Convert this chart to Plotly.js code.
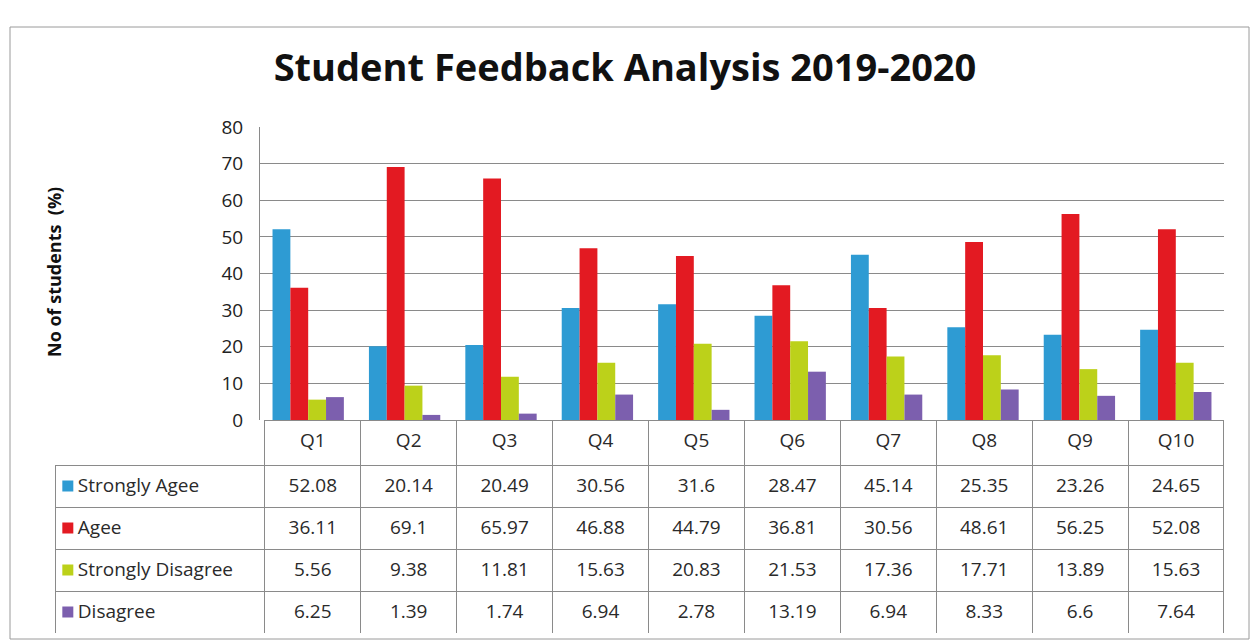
<!DOCTYPE html>
<html><head><meta charset="utf-8">
<script src="https://cdn.plot.ly/plotly-3.0.1.min.js"></script>
<style>html,body{margin:0;padding:0;background:#fff}#chart{width:1253px;height:642px}</style>
</head><body><div id="chart"></div>
<script>
const categories = ['Q1','Q2','Q3','Q4','Q5','Q6','Q7','Q8','Q9','Q10'];
const seriesNames = ['Strongly Agee','Agee','Strongly Disagree','Disagree'];
const stronglyAgree = [52.08,20.14,20.49,30.56,31.6,28.47,45.14,25.35,23.26,24.65];
const agree = [36.11,69.1,65.97,46.88,44.79,36.81,30.56,48.61,56.25,52.08];
const stronglyDisagree = [5.56,9.38,11.81,15.63,20.83,21.53,17.36,17.71,13.89,15.63];
const disagree = [6.25,1.39,1.74,6.94,2.78,13.19,6.94,8.33,6.6,7.64];
const yTicks = [0,10,20,30,40,50,60,70,80];

const colors = ['#2E9BD3','#E31A22','#BCD11A','#7C5FAE'];
const seriesValues = [stronglyAgree, agree, stronglyDisagree, disagree];

const W = 1253, H = 642;
const px = v => v / W, py = v => 1 - v / H;
const FONT = 'Open Sans, sans-serif';

const traces = seriesValues.map((vals, i) => ({
  type: 'bar', x: categories, y: vals, name: seriesNames[i],
  marker: {color: colors[i]}, hoverinfo: 'y', showlegend: false
}));

// legend keys in the table's label column (drawn under the transparent label cells)
traces.push({
  type: 'scatter', mode: 'markers', xaxis: 'x2', yaxis: 'y2',
  x: seriesNames.map(() => 0), y: seriesNames, hoverinfo: 'skip', showlegend: false,
  marker: {symbol: 'square', size: 11, color: colors, line: {width: 0}}
});

const pad = '\u00a0\u00a0\u00a0';
const labelCol = seriesNames.map(n => pad + n);
const valueCols = categories.map((c, j) => seriesValues.map(s => String(s[j])));
const lineGray = '#8a8a8a';
const clear = 'rgba(0,0,0,0)';
const colW = [210].concat(categories.map(() => 96));
const tableX = [px(55), px(1224)];

// grid of the data table (lines and fills)
traces.push({
  type: 'table',
  domain: {x: tableX, y: [py(633), py(420)]},
  columnwidth: colW,
  header: {
    values: [''].concat(categories.map(() => '')),
    height: 45,
    fill: {color: [clear].concat(categories.map(() => 'white'))},
    line: {color: [clear].concat(categories.map(() => lineGray)), width: 1}
  },
  cells: {
    values: [seriesNames.map(() => '')].concat(categories.map(() => seriesNames.map(() => ''))),
    height: 42,
    fill: {color: [clear].concat(categories.map(() => 'white'))},
    line: {color: lineGray, width: 1}
  }
});

// texts of the data table, nudged down so they sit centred in the rows
traces.push({
  type: 'table',
  domain: {x: tableX, y: [py(638), py(425)]},
  columnwidth: colW,
  header: {
    values: [''].concat(categories),
    height: 45,
    align: 'center',
    fill: {color: clear},
    line: {color: clear, width: 0},
    font: {family: FONT, size: 19, color: '#2a2a2a'}
  },
  cells: {
    values: [labelCol].concat(valueCols),
    height: 42,
    align: ['left'].concat(categories.map(() => 'center')),
    fill: {color: clear},
    line: {color: clear, width: 0},
    font: {family: FONT, size: 19, color: '#2a2a2a'}
  }
});

const layout = {
  width: W, height: H,
  margin: {l: 0, r: 0, t: 0, b: 0},
  paper_bgcolor: 'white', plot_bgcolor: 'white',
  barmode: 'group', bargap: 0.26, bargroupgap: 0,
  title: {text: '<b>Student Feedback Analysis 2019-2020</b>', x: px(625), xanchor: 'center', y: py(68), yanchor: 'middle',
          font: {family: FONT, size: 38, color: '#111'}},
  xaxis: {domain: [px(260), px(1224)], showticklabels: false, ticks: '', showgrid: false, zeroline: false, showline: false, fixedrange: true},
  yaxis: {domain: [py(420), py(127)], range: [0, 80], tickvals: yTicks, showgrid: true, gridcolor: lineGray, gridwidth: 1,
          zeroline: false, showline: true, linecolor: lineGray, linewidth: 1, ticks: '', ticklabelstandoff: 12,
          tickfont: {family: FONT, size: 19, color: '#222'}},
  xaxis2: {domain: [px(55), px(265)], range: [-1.3, 20], visible: false, fixedrange: true},
  yaxis2: {domain: [py(633), py(465)], type: 'category', categoryorder: 'array', categoryarray: seriesNames.slice().reverse(),
           range: [-0.5, 3.5], visible: false, fixedrange: true},
  annotations: [
    {text: '<b>No of students  (%)</b>', xref: 'paper', yref: 'paper', x: px(54), y: py(272), textangle: -90,
     showarrow: false, xanchor: 'center', yanchor: 'middle', font: {family: FONT, size: 18, color: '#111'}}
  ],
  shapes: [
    {type: 'rect', xref: 'paper', yref: 'paper', x0: px(10), x1: px(1249), y0: py(639), y1: py(27), line: {color: '#9a9a9a', width: 1}}
  ]
};

Plotly.newPlot('chart', traces, layout, {displayModeBar: false, staticPlot: true});
</script></body></html>
